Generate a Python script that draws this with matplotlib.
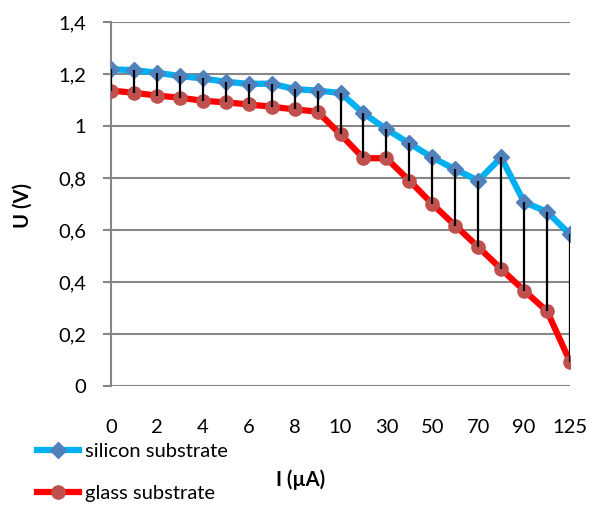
import matplotlib
matplotlib.use("Agg")
import matplotlib.pyplot as plt
from matplotlib.lines import Line2D

# Courant (catégories) et tensions mesurées
courant = ["0", "1", "2", "3", "4", "5", "6", "7", "8", "9", "10",
           "20", "30", "40", "50", "60", "70", "80", "90", "100", "125"]
u_silicium = [1.218, 1.215, 1.205, 1.192, 1.183, 1.170, 1.162, 1.163, 1.142, 1.136, 1.127,
              1.049, 0.988, 0.933, 0.879, 0.833, 0.790, 0.879, 0.707, 0.670, 0.583]
u_verre = [1.136, 1.128, 1.117, 1.109, 1.097, 1.091, 1.083, 1.074, 1.064, 1.055, 0.968,
           0.876, 0.876, 0.790, 0.700, 0.617, 0.535, 0.450, 0.367, 0.288, 0.094]
y_ticks = [0, 0.2, 0.4, 0.6, 0.8, 1.0, 1.2, 1.4]
y_labels = ["0", "0,2", "0,4", "0,6", "0,8", "1", "1,2", "1,4"]

plt.rcParams['font.family'] = ['Lato', 'DejaVu Sans']
gris = '#868686'
taille = 14.5

fig = plt.figure(figsize=(5.92, 5.08), dpi=100)
ax = fig.add_axes([111 / 592, 1 - 386 / 508, (570 - 111) / 592, (386 - 22) / 508])

x = list(range(len(courant)))

ax.plot(x, u_silicium, color='#00B0F0', lw=4.5, marker='D', ms=8.5,
        mfc='#4F81BD', mec='#4F81BD', zorder=3, label='silicon substrate')
ax.plot(x, u_verre, color='#FF0000', lw=4.5, marker='o', ms=9.5,
        mfc='#C0504D', mec='#C0504D', zorder=3, label='glass substrate')
# lignes haut-bas entre les deux séries
ax.vlines(x, u_verre, u_silicium, colors='black', lw=1.6, zorder=4)

ax.set_xlim(0, len(courant) - 1)
ax.set_ylim(0, 1.4)
ax.set_yticks(y_ticks)
ax.set_yticklabels(y_labels)
ax.set_xticks(x[::2])
ax.set_xticklabels(courant[::2])

ax.grid(axis='y', color=gris, lw=1.5)
ax.set_axisbelow(True)
for s in ['top', 'right', 'bottom']:
    ax.spines[s].set_visible(False)
ax.spines['left'].set_color(gris)
ax.spines['left'].set_linewidth(1.5)
ax.spines['left'].set_zorder(1)
ax.tick_params(axis='y', length=6, width=1.5, color=gris, pad=12, labelsize=taille)
ax.tick_params(axis='x', length=0, pad=24, labelsize=taille)

fig.text(301 / 592, 1 - 480 / 508, "I (µA)", ha='center', va='center',
         fontsize=taille, fontweight='bold')
fig.text(23 / 592, 1 - 205 / 508, "U (V)", ha='center', va='center',
         fontsize=taille, fontweight='bold', rotation=90)

handles = [
    Line2D([], [], color='#00B0F0', lw=4.5, marker='D', ms=8.5, mfc='#4F81BD', mec='#4F81BD'),
    Line2D([], [], color='#FF0000', lw=4.5, marker='o', ms=9.5, mfc='#C0504D', mec='#C0504D'),
]
fig.legend(handles, ['silicon substrate', 'glass substrate'], loc='upper left',
           bbox_to_anchor=(37 / 592, 1 - 443 / 508), frameon=False, fontsize=taille,
           handlelength=2.1, handletextpad=0.3, labelspacing=1.25, borderpad=0,
           borderaxespad=0)

fig.savefig("out.png", dpi=100)
